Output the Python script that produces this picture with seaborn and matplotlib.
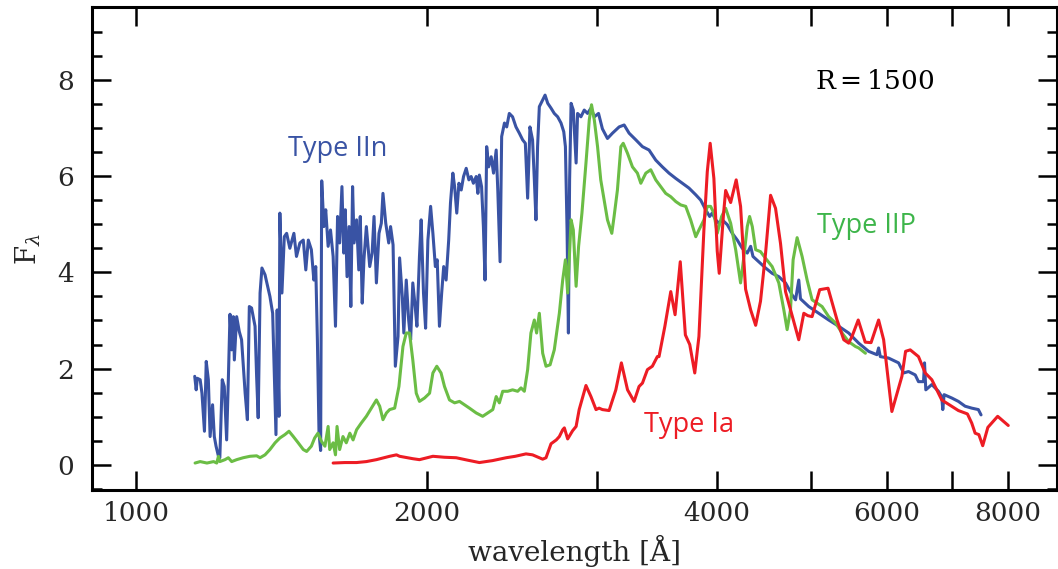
import numpy as np
import pandas as pd
import matplotlib
matplotlib.use("Agg")
import matplotlib.pyplot as plt
import seaborn as sns
from matplotlib.ticker import FixedLocator, FixedFormatter, MultipleLocator, NullLocator

# ---------------- data ----------------
iin_wave = [1150,1154,1157,1165,1170,1177,1182,1188,1193,1200,
            1205,1210,1217,1221,1228,1234,1241,1246,1251,1256,
            1261,1264,1271,1279,1286,1297,1304,1310,1317,1328,
            1333,1338,1344,1350,1360,1376,1385,1396,1400,1406,
            1409,1416,1424,1432,1443,1457,1466,1478,1490,1499,
            1508,1519,1528,1535,1541,1547,1553,1557,1565,1572,
            1581,1590,1600,1609,1617,1625,1634,1641,1647,1654,
            1662,1669,1676,1682,1692,1701,1707,1715,1722,1732,
            1746,1756,1764,1774,1785,1795,1802,1814,1827,1835,
            1846,1856,1868,1875,1887,1894,1905,1916,1925,1935,
            1946,1954,1966,1974,1985,1995,2006,2019,2030,2042,
            2051,2062,2073,2083,2095,2108,2117,2129,2138,2149,
            2160,2172,2184,2198,2212,2224,2236,2251,2260,2268,
            2280,2290,2299,2308,2319,2333,2346,2361,2370,2383,
            2392,2408,2421,2436,2455,2475,2495,2515,2531,2545,
            2559,2575,2586,2596,2606,2617,2638,2653,2670,2691,
            2712,2734,2756,2774,2785,2796,2805,2813,2823,2838,
            2857,2867,2890,2913,2936,2960,2984,3014,3042,3079,
            3116,3166,3204,3242,3295,3347,3400,3455,3510,3566,
            3624,3681,3740,3801,3846,3892,3929,3953,3986,4017,
            4049,4098,4147,4197,4247,4298,4333,4357,4418,4490,
            4561,4634,4709,4784,4823,4860,4880,4977,5097,5220,
            5346,5475,5607,5741,5856,5880,5904,6021,6167,6242,
            6315,6417,6467,6545,6561,6581,6676,6782,6836,6853,
            6875,7002,7113,7228,7343,7460,7508]
iin_flux = [1.84,1.56,1.80,1.77,1.49,0.70,2.15,1.77,0.59,1.25,
            0.59,0.39,0.18,0.15,1.77,1.63,0.52,1.77,3.13,2.39,
            3.08,2.18,3.08,2.77,2.60,1.49,0.94,3.29,3.26,2.88,
            1.84,0.98,3.57,4.09,3.95,3.50,3.15,0.63,3.22,1.01,
            5.23,3.57,4.74,4.81,4.50,4.81,4.33,4.61,4.67,4.05,
            4.67,4.47,3.84,4.12,2.60,0.66,0.30,5.90,4.95,5.30,
            4.54,4.88,4.33,2.88,5.16,4.61,5.78,4.40,5.30,3.91,
            4.95,3.29,5.78,4.61,5.09,4.05,5.16,3.36,4.26,4.95,
            4.12,4.40,5.16,3.78,4.81,5.02,5.64,5.02,4.61,4.95,
            4.57,2.05,2.67,4.30,3.50,2.74,3.84,3.01,2.60,3.78,
            3.29,2.88,4.33,5.09,3.57,2.84,4.67,5.37,4.81,4.12,
            4.26,2.88,3.57,4.12,3.84,4.67,5.44,6.06,5.78,5.23,
            5.85,5.71,5.99,6.16,5.92,5.99,5.85,5.99,5.64,6.02,
            5.78,4.95,3.84,6.61,6.19,6.40,6.06,6.54,5.71,4.22,
            6.82,7.10,7.02,7.30,7.23,7.02,6.89,6.75,6.68,5.54,
            7.02,6.75,5.92,5.09,6.61,7.44,7.58,7.68,7.51,7.41,
            7.30,7.23,7.10,6.92,6.61,4.88,2.74,5.92,7.51,7.37,
            6.27,7.30,7.23,7.37,7.30,7.41,7.23,7.30,6.98,6.78,
            6.89,7.02,7.06,6.89,6.75,6.61,6.54,6.33,6.19,6.06,
            5.95,5.85,5.75,5.61,5.50,5.30,5.16,5.23,5.09,5.02,
            5.09,4.99,4.81,4.67,4.50,4.40,4.54,4.33,4.22,4.09,
            3.98,3.91,3.78,3.53,3.43,3.84,3.45,3.29,3.15,3.01,
            2.88,2.74,2.53,2.36,2.29,2.43,2.25,2.22,2.12,1.91,
            1.94,1.87,1.73,1.73,2.12,1.56,1.67,1.53,1.42,1.15,
            1.46,1.39,1.32,1.22,1.18,1.15,1.04]

iip_wave = [1151,1165,1184,1203,1212,1217,1221,1236,1246,1256,
            1271,1291,1312,1333,1344,1360,1376,1393,1409,1426,
            1440,1455,1472,1490,1502,1519,1531,1543,1556,1569,
            1581,1587,1600,1609,1615,1625,1638,1651,1665,1678,
            1692,1711,1732,1753,1774,1788,1802,1817,1831,1853,
            1872,1890,1905,1920,1935,1951,1966,1990,2014,2030,
            2049,2070,2087,2112,2138,2163,2189,2215,2251,2286,
            2314,2342,2361,2379,2398,2427,2455,2485,2505,2525,
            2545,2565,2586,2600,2617,2638,2659,2685,2712,2745,
            2767,2785,2800,2823,2838,2857,2874,2897,2925,2948,
            2964,2984,3007,3030,3055,3079,3111,3128,3153,3179,
            3197,3230,3268,3307,3334,3374,3414,3455,3496,3538,
            3581,3624,3667,3711,3755,3801,3830,3876,3907,3938,
            3969,4001,4043,4082,4131,4181,4230,4264,4298,4322,
            4350,4385,4436,4490,4561,4634,4690,4727,4765,4795,
            4841,4899,4958,5017,5138,5220,5305,5389,5475,5564,
            5607,5698]
iip_flux = [0.04,0.07,0.04,0.07,0.04,0.18,0.07,0.11,0.15,0.07,
            0.11,0.15,0.18,0.19,0.15,0.21,0.32,0.46,0.56,0.63,
            0.70,0.59,0.46,0.32,0.28,0.39,0.56,0.66,0.49,0.39,
            0.80,0.32,0.46,0.21,0.80,0.32,0.59,0.46,0.66,0.52,
            0.73,0.87,1.01,1.18,1.35,1.22,0.94,1.08,1.15,1.18,
            1.63,2.46,2.74,2.74,2.18,1.49,1.32,1.39,1.49,1.91,
            2.05,1.91,1.63,1.35,1.29,1.32,1.25,1.18,1.08,1.01,
            1.08,1.15,1.42,1.29,1.53,1.53,1.56,1.53,1.60,1.53,
            1.98,2.74,3.01,2.74,3.15,2.32,2.05,2.08,2.39,3.15,
            3.84,4.26,3.57,5.09,4.88,3.71,4.54,5.23,6.27,7.16,
            7.48,7.16,6.61,5.92,5.50,5.09,4.81,5.16,5.71,6.61,
            6.68,6.47,6.19,6.06,5.85,6.06,6.13,5.92,5.78,5.64,
            5.57,5.47,5.40,5.37,5.09,4.74,4.88,5.09,5.37,5.37,
            5.23,4.81,5.16,5.33,5.02,4.47,3.78,4.33,4.95,5.16,
            4.95,4.47,4.43,4.29,4.12,3.78,3.22,2.81,3.22,4.26,
            4.72,4.33,3.84,3.43,3.29,3.08,2.95,2.74,2.56,2.46,
            2.43,2.32]

ia_wave = [1600,1645,1692,1732,1774,1831,1861,1875,1935,1966,
           2030,2087,2146,2205,2268,2340,2418,2471,2535,2575,
           2638,2659,2691,2725,2745,2767,2778,2800,2833,2857,
           2878,2925,2960,2996,3018,3042,3091,3141,3183,3230,
           3281,3320,3347,3387,3427,3468,3482,3531,3581,3618,
           3663,3708,3747,3792,3830,3876,3907,3934,3969,4001,
           4020,4061,4082,4131,4186,4230,4281,4333,4385,4436,
           4490,4544,4598,4653,4709,4784,4860,4919,4966,5017,
           5109,5212,5325,5411,5475,5519,5601,5695,5775,5880,
           5951,6069,6216,6271,6341,6467,6572,6676,6836,7113,
           7268,7343,7403,7469,7538,7631,7812,8012]
ia_flux = [0.04,0.05,0.05,0.07,0.11,0.18,0.21,0.18,0.13,0.11,
           0.18,0.16,0.15,0.10,0.05,0.09,0.15,0.18,0.23,0.21,
           0.12,0.15,0.44,0.52,0.59,0.73,0.77,0.54,0.71,0.80,
           1.15,1.65,1.42,1.15,1.18,1.15,1.13,1.56,2.12,1.56,
           1.32,1.63,1.70,1.98,2.05,2.25,2.25,2.88,3.60,3.12,
           4.22,2.70,2.50,1.91,2.67,4.90,6.09,6.68,5.95,4.44,
           3.98,5.20,5.70,5.45,5.92,5.37,3.65,3.22,2.90,3.40,
           4.40,5.60,5.33,4.60,3.60,3.10,2.60,3.15,3.10,3.08,
           3.64,3.67,3.01,2.60,2.53,2.67,3.01,2.55,2.54,3.01,
           2.60,1.11,1.84,2.36,2.39,2.25,1.91,1.77,1.35,1.13,
           1.06,0.87,0.66,0.63,0.40,0.78,1.01,0.82]

xtick_values = [1000, 2000, 3000, 4000, 5000, 6000, 7000, 8000]
xtick_labels = ["1000", "2000", "", "4000", "", "6000", "", "8000"]
ytick_step = 2
yminor_step = 0.5

series_names = ["Type IIn", "Type IIP", "Type Ia"]
label_text = r"R$=$1500"

# ---------------- style ----------------
BLUE = "#3953a4"
GREEN_LINE = "#6bbd45"
GREEN_TEXT = "#3db54a"
RED = "#ed1c24"

sns.set_style("ticks")
plt.rcParams["font.family"] = ["DejaVu Serif"]
plt.rcParams["mathtext.fontset"] = "dejavuserif"

fig = plt.figure(figsize=(10.58, 5.69), dpi=100)
ax = fig.add_axes([92 / 1058, 1 - 490 / 569, (1057 - 92) / 1058, (490 - 7) / 569])

sns.lineplot(x=iin_wave, y=iin_flux, ax=ax, color=BLUE, lw=2.2,
             sort=False, estimator=None)
sns.lineplot(x=iip_wave, y=iip_flux, ax=ax, color=GREEN_LINE, lw=2.2,
             sort=False, estimator=None)
sns.lineplot(x=ia_wave, y=ia_flux, ax=ax, color=RED, lw=2.2,
             sort=False, estimator=None)

ax.set_xscale("log")
ax.set_xlim(900, 9000)
ax.set_ylim(-0.52, 9.51)

ax.xaxis.set_major_locator(FixedLocator(xtick_values))
ax.xaxis.set_major_formatter(FixedFormatter(xtick_labels))
ax.xaxis.set_minor_locator(NullLocator())
ax.yaxis.set_major_locator(MultipleLocator(ytick_step))
ax.yaxis.set_minor_locator(MultipleLocator(yminor_step))

ax.tick_params(which="both", direction="in", top=True, right=True,
               width=1.8, color="black", labelsize=19)
ax.tick_params(which="major", length=14)
ax.tick_params(which="minor", length=7)
ax.tick_params(axis="y", pad=13)
ax.tick_params(axis="x", pad=8)
for s in ax.spines.values():
    s.set_linewidth(2.2)
    s.set_color("black")

ax.set_xlabel("wavelength [Å]", fontsize=20, labelpad=6)
ax.set_ylabel(r"F$_\lambda$", fontsize=20, labelpad=10)

ax.text(1436, 6.42, series_names[0], color=BLUE, fontsize=19.5,
        family="Open Sans", va="baseline", ha="left")
ax.text(5074, 4.82, series_names[1], color=GREEN_TEXT, fontsize=19.5,
        family="Open Sans", va="baseline", ha="left")
ax.text(3361, 0.68, series_names[2], color=RED, fontsize=19.5,
        family="Open Sans", va="baseline", ha="left")
ax.text(5058, 7.80, label_text, color="black", fontsize=19,
        va="baseline", ha="left")

fig.savefig("out.png", dpi=100)
